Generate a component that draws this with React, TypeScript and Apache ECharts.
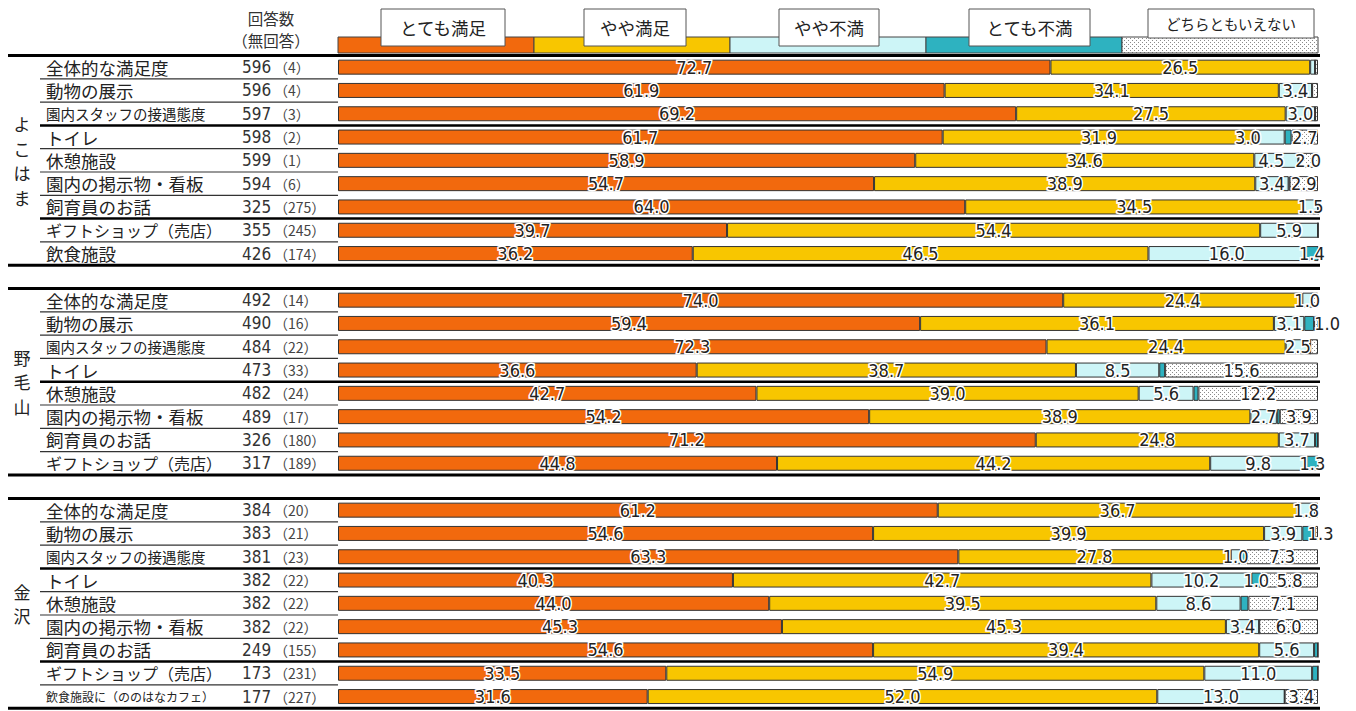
import React, { useEffect, useRef } from "react";
import * as echarts from "echarts";

// ---------- categories (legend) ----------
const answerTypes = ["とても満足", "やや満足", "やや不満", "とても不満", "どちらともいえない"];

// ---------- よこはま ----------
const yokohamaName = "よこはま";
const yokohamaRows = ["全体的な満足度", "動物の展示", "園内スタッフの接遇態度", "トイレ", "休憩施設", "園内の掲示物・看板", "飼育員のお話", "ギフトショップ（売店）", "飲食施設"];
const yokohamaCounts = [596, 596, 597, 598, 599, 594, 325, 355, 426];
const yokohamaNoAnswer = [4, 4, 3, 2, 1, 6, 275, 245, 174];
const yokohamaVerySat = [72.7, 61.9, 69.2, 61.7, 58.9, 54.7, 64.0, 39.7, 36.2];
const yokohamaSomeSat = [26.5, 34.1, 27.5, 31.9, 34.6, 38.9, 34.5, 54.4, 46.5];
const yokohamaSomeDis = [0.5, 3.4, 3.0, 3.0, 4.5, 3.4, 1.5, 5.9, 16.0];
const yokohamaVeryDis = [0, 0, 0, 0.7, 0, 0.1, 0, 0, 1.4];
const yokohamaNeither = [0.3, 0.6, 0.3, 2.7, 2.0, 2.9, 0, 0, 0];
const yokohamaThick = [3, 7];

// ---------- 野毛山 ----------
const nogeyamaName = "野毛山";
const nogeyamaRows = ["全体的な満足度", "動物の展示", "園内スタッフの接遇態度", "トイレ", "休憩施設", "園内の掲示物・看板", "飼育員のお話", "ギフトショップ（売店）"];
const nogeyamaCounts = [492, 490, 484, 473, 482, 489, 326, 317];
const nogeyamaNoAnswer = [14, 16, 22, 33, 24, 17, 180, 189];
const nogeyamaVerySat = [74.0, 59.4, 72.3, 36.6, 42.7, 54.2, 71.2, 44.8];
const nogeyamaSomeSat = [24.4, 36.1, 24.4, 38.7, 39.0, 38.9, 24.8, 44.2];
const nogeyamaSomeDis = [1.0, 3.1, 2.5, 8.5, 5.6, 2.7, 3.7, 9.8];
const nogeyamaVeryDis = [0, 1.0, 0, 0.6, 0.5, 0.3, 0.3, 1.3];
const nogeyamaNeither = [0.6, 0.4, 0.8, 15.6, 12.2, 3.9, 0, 0];
const nogeyamaThick = [4];

// ---------- 金沢 ----------
const kanazawaName = "金沢";
const kanazawaRows = ["全体的な満足度", "動物の展示", "園内スタッフの接遇態度", "トイレ", "休憩施設", "園内の掲示物・看板", "飼育員のお話", "ギフトショップ（売店）", "飲食施設に（ののはなカフェ）"];
const kanazawaCounts = [384, 383, 381, 382, 382, 382, 249, 173, 177];
const kanazawaNoAnswer = [20, 21, 23, 22, 22, 22, 155, 231, 227];
const kanazawaVerySat = [61.2, 54.6, 63.3, 40.3, 44.0, 45.3, 54.6, 33.5, 31.6];
const kanazawaSomeSat = [36.7, 39.9, 27.8, 42.7, 39.5, 45.3, 39.4, 54.9, 52.0];
const kanazawaSomeDis = [1.8, 3.9, 1.0, 10.2, 8.6, 3.4, 5.6, 11.0, 13.0];
const kanazawaVeryDis = [0, 1.3, 0.6, 1.0, 0.8, 0, 0.4, 0.6, 0];
const kanazawaNeither = [0.3, 0.3, 7.3, 5.8, 7.1, 6.0, 0, 0, 3.4];
const kanazawaThick = [3, 7];

const groups = [
  { name: yokohamaName, rows: yokohamaRows, counts: yokohamaCounts, noAns: yokohamaNoAnswer, thick: yokohamaThick,
    values: [yokohamaVerySat, yokohamaSomeSat, yokohamaSomeDis, yokohamaVeryDis, yokohamaNeither] },
  { name: nogeyamaName, rows: nogeyamaRows, counts: nogeyamaCounts, noAns: nogeyamaNoAnswer, thick: nogeyamaThick,
    values: [nogeyamaVerySat, nogeyamaSomeSat, nogeyamaSomeDis, nogeyamaVeryDis, nogeyamaNeither] },
  { name: kanazawaName, rows: kanazawaRows, counts: kanazawaCounts, noAns: kanazawaNoAnswer, thick: kanazawaThick,
    values: [kanazawaVerySat, kanazawaSomeSat, kanazawaSomeDis, kanazawaVeryDis, kanazawaNeither] },
];

// ---------- layout / style ----------
const W = 1356;
const H = 711;
const GRID_LEFT = 338;
const GRID_W = 980;
const ROW_H = 23.3;
const GROUP_TOPS = [55.5, 288.5, 498.5];
const JP = "'Noto Sans CJK JP', 'Noto Sans', sans-serif";
const NUM = "'Liberation Sans Narrow', 'DejaVu Sans Condensed', 'Liberation Sans', sans-serif";
// horizontal nudges (px) for crowded data labels: "group-row-series"
const LABEL_NUDGE: Record<string, number> = { "0-3-2": -22, "0-4-2": -5, "1-1-3": 18, "2-1-3": 12 };
const NAME_STYLE: Record<string, string> = {
  "園内スタッフの接遇態度": "nameS",
  "ギフトショップ（売店）": "nameM",
  "飲食施設に（ののはなカフェ）": "nameXS",
};

const dotSvg =
  "<svg xmlns='http://www.w3.org/2000/svg' width='4' height='4'><rect width='4' height='4' fill='#ffffff'/><rect x='0' y='0' width='1' height='1' fill='#8a8a8a'/><rect x='2' y='2' width='1' height='1' fill='#8a8a8a'/></svg>";
const dotPattern = () => ({
  image: "data:image/svg+xml;charset=utf-8," + encodeURIComponent(dotSvg),
  repeat: "repeat",
  imageWidth: 4,
  imageHeight: 4,
});
const COLORS: any[] = ["#F2690D", "#F8C600", "#CDF5F7", "#2EB2C0", null];
const colorFor = (i: number) => (i === 4 ? dotPattern() : COLORS[i]);

export default function App() {
  const ref = useRef<HTMLDivElement>(null);
  useEffect(() => {
    if (!ref.current) return;
    const chart = echarts.init(ref.current, null, { renderer: "svg" });

    const grids: any[] = [];
    const xAxes: any[] = [];
    const yAxes: any[] = [];
    const series: any[] = [];
    const graphics: any[] = [];

    groups.forEach((g, gi) => {
      const top = GROUP_TOPS[gi];
      const h = g.rows.length * ROW_H;
      grids.push({ left: GRID_LEFT, width: GRID_W, top, height: h });
      xAxes.push({ gridIndex: gi, type: "value", min: 0, max: 100, show: false });
      yAxes.push({
        gridIndex: gi,
        type: "category",
        data: g.rows,
        inverse: true,
        axisLine: { show: false },
        axisTick: { show: false },
        splitLine: { show: false },
        axisLabel: {
          align: "left",
          margin: GRID_LEFT - 46,
          formatter: (v: string, idx: number) => {
            const key = NAME_STYLE[v] || "name";
            return `{${key}|${v}}{n|${g.counts[idx]}}{p|（${g.noAns[idx]}）}`;
          },
          rich: {
            name: { width: 196, fontSize: 17.5, lineHeight: 20, fontFamily: JP, color: "#222" },
            nameM: { width: 196, fontSize: 16, lineHeight: 20, fontFamily: JP, color: "#222" },
            nameS: { width: 196, fontSize: 14.5, lineHeight: 20, fontFamily: JP, color: "#222" },
            nameXS: { width: 196, fontSize: 12, lineHeight: 20, fontFamily: JP, color: "#222" },
            n: { width: 32, fontSize: 17, lineHeight: 20, fontFamily: NUM, color: "#333" },
            p: { fontSize: 14, lineHeight: 20, fontFamily: JP, color: "#444" },
          },
        },
      });
      g.values.forEach((arr, ci) => {
        series.push({
          type: "bar",
          name: answerTypes[ci],
          xAxisIndex: gi,
          yAxisIndex: gi,
          stack: "g" + gi,
          barWidth: 15,
          data: arr.map((v, ri) => {
            const dx = LABEL_NUDGE[`${gi}-${ri}-${ci}`];
            return dx ? { value: v, label: { offset: [dx, 0] } } : v;
          }),
          itemStyle: { color: colorFor(ci), borderColor: "#333", borderWidth: 1 },
          label: {
            show: true,
            position: "inside",
            formatter: (p: any) => (p.value >= 1 ? Number(p.value).toFixed(1) : ""),
            fontFamily: NUM,
            fontSize: 18,
            color: "#222",
            textBorderColor: "#ffffff",
            textBorderWidth: 3,
          },
        });
      });

      // group lines
      graphics.push({ type: "line", shape: { x1: 8, y1: top, x2: GRID_LEFT + GRID_W + 2, y2: top }, style: { stroke: "#000", lineWidth: 3 } });
      graphics.push({ type: "line", shape: { x1: 8, y1: top + h, x2: GRID_LEFT + GRID_W + 2, y2: top + h }, style: { stroke: "#000", lineWidth: 3 } });
      for (let i = 1; i < g.rows.length; i++) {
        const y = top + i * ROW_H;
        if (g.thick.includes(i)) {
          graphics.push({ type: "line", shape: { x1: 40, y1: y, x2: GRID_LEFT + GRID_W + 2, y2: y }, style: { stroke: "#000", lineWidth: 2.5 } });
        } else {
          graphics.push({ type: "line", shape: { x1: 40, y1: y, x2: GRID_LEFT, y2: y }, style: { stroke: "#333", lineWidth: 1.2 } });
        }
      }
      // group vertical name
      graphics.push({
        type: "text",
        x: 22,
        y: top + h / 2,
        style: {
          text: g.name.split("").join("\n"),
          font: `17px ${JP}`,
          lineHeight: 24.5,
          fill: "#222",
          align: "center",
          verticalAlign: "middle",
        },
      });
    });

    // header
    graphics.push({ type: "text", x: 271, y: 18, style: { text: "回答数", font: `15.5px ${JP}`, fill: "#333", align: "center", verticalAlign: "middle" } });
    graphics.push({ type: "text", x: 271, y: 40, style: { text: "（無回答）", font: `15.5px ${JP}`, fill: "#333", align: "center", verticalAlign: "middle" } });

    const segW = GRID_W / answerTypes.length;
    answerTypes.forEach((_, i) => {
      graphics.push({
        type: "rect",
        shape: { x: GRID_LEFT + i * segW, y: 37, width: segW, height: 16 },
        style: { fill: colorFor(i), stroke: "#444", lineWidth: 1 },
      });
    });
    const boxes = [
      { x: 381, w: 124, fs: 17.5 },
      { x: 584, w: 102, fs: 17.5 },
      { x: 779, w: 100, fs: 17.5 },
      { x: 969, w: 121, fs: 17.5 },
      { x: 1148, w: 166, fs: 14.5 },
    ];
    answerTypes.forEach((t, i) => {
      const b = boxes[i];
      const bh = i === 4 ? 29 : 37;
      graphics.push({
        type: "rect",
        shape: { x: b.x, y: 9, width: b.w, height: bh },
        style: { fill: "#fff", stroke: "#555", lineWidth: 1 },
      });
      graphics.push({
        type: "text",
        x: b.x + b.w / 2,
        y: 9 + bh / 2,
        style: { text: t, font: `${b.fs}px ${JP}`, fill: "#222", align: "center", verticalAlign: "middle" },
      });
    });

    chart.setOption({
      animation: false,
      backgroundColor: "#ffffff",
      grid: grids,
      xAxis: xAxes,
      yAxis: yAxes,
      series,
      graphic: graphics,
    });
    return () => chart.dispose();
  }, []);
  return <div ref={ref} style={{ position: "fixed", left: 0, top: 0, width: W, height: H }} />;
}
